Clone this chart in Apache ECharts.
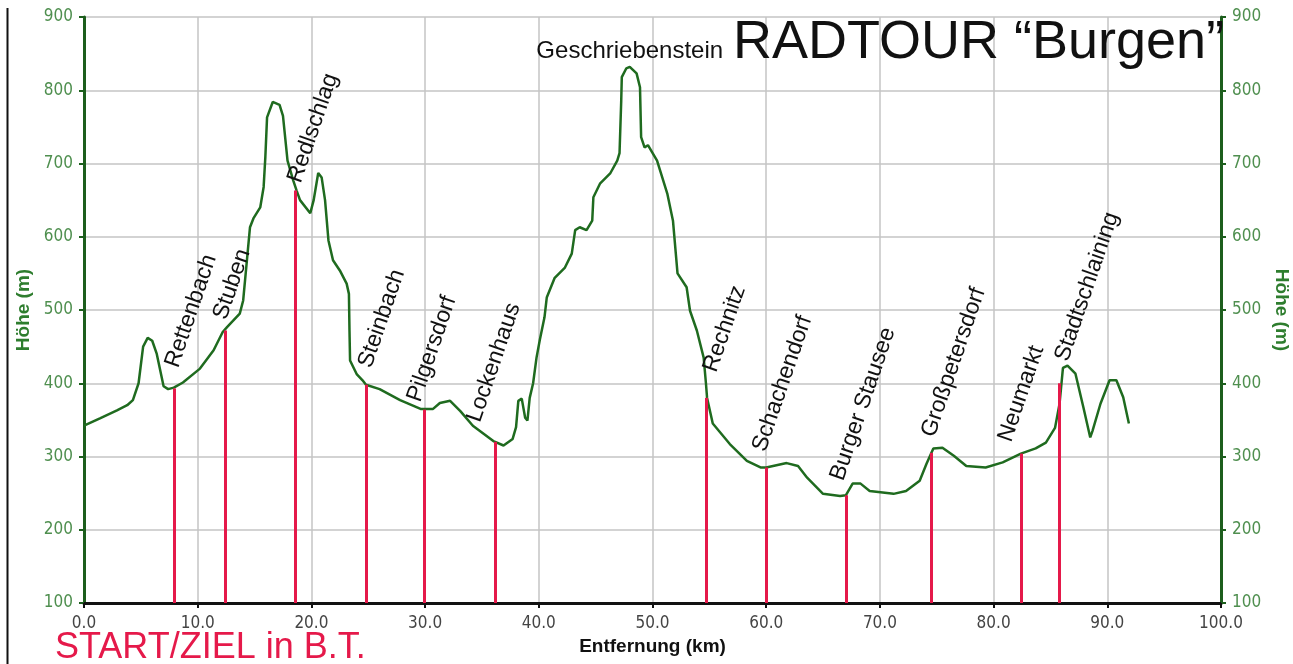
<!DOCTYPE html>
<html>
<head>
<meta charset="utf-8">
<script src="https://cdn.jsdelivr.net/npm/echarts@6/dist/echarts.min.js"></script>
<style>
  html, body { margin: 0; padding: 0; background: #fff; }
  #chart { width: 1293px; height: 664px; }
</style>
</head>
<body>
<div id="chart"></div>
<script>
// Höhenprofil: Entfernung (km) / Höhe (m)
const distKm = [0.0, 1.4, 2.9, 3.8, 4.3, 4.8, 5.2, 5.6, 6.0, 6.4, 7.0, 7.4, 7.9, 8.7, 10.2, 11.4, 12.2, 12.6,
  13.7, 14.0, 14.6, 14.9, 15.5, 15.8, 15.95, 16.1, 16.6, 17.2, 17.5, 17.9, 18.4, 18.7, 19.0, 19.9, 20.2, 20.6,
  20.9, 21.2, 21.5, 21.9, 22.5, 23.1, 23.3, 23.35, 23.4, 24.0, 24.5, 24.8, 26.0, 27.8, 29.6, 30.7, 31.3, 32.2,
  33.1, 34.2, 36.0, 36.9, 37.7, 38.0, 38.2, 38.5, 38.8, 39.0, 39.2, 39.5, 39.8, 40.1, 40.5, 40.7, 41.4, 42.3,
  42.9, 43.2, 43.6, 44.2, 44.7, 44.8, 45.4, 46.3, 46.9, 47.1, 47.25, 47.3, 47.7, 48.0, 48.6, 48.9, 49.0, 49.3,
  49.6, 50.4, 51.3, 51.8, 52.2, 53.0, 53.3, 53.9, 54.5, 54.7, 54.8, 55.3, 56.8, 58.3, 59.5, 60.0, 60.6, 61.8,
  62.8, 63.6, 65.0, 66.5, 67.0, 67.6, 68.3, 69.1, 71.2, 72.3, 73.5, 74.1, 74.7, 75.5, 76.5, 77.6, 79.3, 80.8,
  82.4, 83.7, 84.6, 85.4, 85.8, 86.1, 86.5, 87.2, 87.9, 88.5, 88.7, 89.4, 90.2, 90.8, 91.4, 91.9];
const elevM = [342, 352, 363, 370, 377, 400, 450, 462, 458, 440, 396, 392, 394, 401, 420, 445, 470, 477,
  495, 513, 613, 625, 640, 668, 709, 763, 784, 780, 765, 704, 677, 663, 650, 632, 650, 687,
  681, 650, 595, 568, 554, 536, 522, 472, 431, 412, 404, 398, 392, 377, 365, 365, 373, 376,
  362, 342, 321, 315, 324, 340, 376, 379, 353, 349, 380, 400, 435, 460, 490, 517, 544, 558,
  577, 609, 613, 609, 622, 654, 673, 687, 704, 714, 786, 818, 830, 832, 823, 804, 736, 722,
  725, 704, 659, 622, 550, 531, 499, 472, 435, 400, 380, 345, 317, 294, 285, 285, 287, 291,
  287, 271, 249, 246, 247, 263, 263, 253, 249, 253, 267, 290, 311, 312, 301, 287, 285, 292,
  304, 311, 319, 339, 372, 421, 424, 413, 367, 326, 335, 372, 404, 404, 381, 345];

// Orte entlang der Strecke
const stopNames = ['Rettenbach', 'Stuben', 'Redlschlag', 'Steinbach', 'Pilgersdorf', 'Lockenhaus',
  'Rechnitz', 'Schachendorf', 'Burger Stausee', 'Großpetersdorf', 'Neumarkt', 'Stadtschlaining'];
const stopKm = [7.9, 12.4, 18.6, 24.8, 29.9, 36.2, 54.7, 60.0, 67.0, 74.5, 82.4, 85.8];
const stopElev = [393, 472, 663, 398, 364, 320, 380, 285, 247, 305, 304, 400];

const summitName = 'Geschriebenstein';
const summitKm = 48.0;
const summitElev = 832;

const xTicks = [0, 10, 20, 30, 40, 50, 60, 70, 80, 90, 100];
const yTicks = [100, 200, 300, 400, 500, 600, 700, 800, 900];

// Label-Versatz in Pixel (nur Optik)
const labelShift = [[9, -18], [6, -8], [10, -5], [10, -14], [1, -5], [-11, -17],
  [15, -23], [4, -13], [2, -12], [8, -13], [-5, -9], [13, -19]];

const chart = echarts.init(document.getElementById('chart'));

const green = '#1d5e1d';
const tickGreen = '#4f8f4f';
const red = '#e5194a';
const narrow = '"Liberation Sans Narrow", "DejaVu Sans Condensed", "Liberation Sans", Arial, sans-serif';
const sans = '"Liberation Sans", Arial, sans-serif';

const profile = distKm.map((d, i) => [d, elevM[i]]);

const yAxisBase = {
  type: 'value',
  min: yTicks[0],
  max: yTicks[yTicks.length - 1],
  interval: 100,
  name: 'Höhe (m)',
  nameLocation: 'middle',
  nameTextStyle: { color: '#2e7d2e', fontWeight: 'bold', fontSize: 19, fontFamily: sans },
  axisLine: { show: true, lineStyle: { color: green, width: 3 } },
  axisTick: { show: true, length: 5, lineStyle: { color: green, width: 2 } },
  axisLabel: { color: tickGreen, fontSize: 17, fontFamily: narrow, margin: 11 }
};

const option = {
  animation: false,
  backgroundColor: '#fff',
  title: [
    {
      text: 'RADTOUR “Burgen”',
      left: 733, top: 16, padding: 0,
      textStyle: { fontSize: 54, fontWeight: 'normal', color: '#111', fontFamily: sans }
    },
    {
      text: 'START/ZIEL in B.T.',
      left: 55, top: 630, padding: 0,
      textStyle: { fontSize: 36, fontWeight: 'normal', color: red, fontFamily: sans }
    }
  ],
  graphic: [
    { type: 'line', shape: { x1: 7.5, y1: 8, x2: 7.5, y2: 664 }, style: { stroke: '#111', lineWidth: 2 } }
  ],
  grid: { left: 84, right: 72, top: 17, bottom: 61, outerBoundsMode: 'none' },
  xAxis: {
    type: 'value',
    min: xTicks[0],
    max: xTicks[xTicks.length - 1],
    interval: 10,
    name: 'Entfernung (km)',
    nameLocation: 'middle',
    nameGap: 34,
    nameTextStyle: { color: '#111', fontWeight: 'bold', fontSize: 19, fontFamily: sans },
    axisLine: { lineStyle: { color: '#111', width: 3 } },
    axisTick: { show: true, length: 5, lineStyle: { color: '#111', width: 2 } },
    axisLabel: { color: '#444', fontSize: 17, fontFamily: narrow, margin: 12, formatter: v => v.toFixed(1) },
    splitLine: { show: true, lineStyle: { color: '#c4c4c4', width: 1.5 } }
  },
  yAxis: [
    Object.assign({}, yAxisBase, {
      position: 'left',
      nameGap: 51,
      nameRotate: 90,
      splitLine: { show: true, lineStyle: { color: '#c4c4c4', width: 1.5 } }
    }),
    Object.assign({}, yAxisBase, {
      position: 'right',
      nameGap: 37,
      nameRotate: -90,
      splitLine: { show: false }
    })
  ],
  series: [
    {
      type: 'line',
      data: profile,
      showSymbol: false,
      symbol: 'none',
      lineStyle: { color: '#1f6b1f', width: 2.5 },
      z: 3,
      markLine: {
        silent: true,
        symbol: ['none', 'none'],
        label: { show: false },
        lineStyle: { color: red, width: 3, type: 'solid' },
        data: stopKm.map((k, i) => [
          { coord: [k, yTicks[0]] },
          { coord: [k, stopElev[i]] }
        ])
      }
    },
    {
      type: 'scatter',
      symbolSize: 0,
      silent: true,
      z: 5,
      itemStyle: { opacity: 1 },
      data: stopNames.map((n, i) => ({
        name: n,
        value: [stopKm[i], stopElev[i]],
        label: { position: labelShift[i] }
      })),
      label: {
        show: true,
        formatter: p => p.name,
        rotate: 71,
        align: 'left',
        verticalAlign: 'bottom',
        color: '#111',
        fontSize: 23,
        fontFamily: sans
      }
    },
    {
      type: 'scatter',
      symbolSize: 0,
      silent: true,
      itemStyle: { opacity: 1 },
      data: [{ name: summitName, value: [summitKm, summitElev] }],
      label: {
        show: true,
        position: 'top',
        distance: 3,
        formatter: p => p.name,
        color: '#111',
        fontSize: 24,
        fontFamily: sans
      }
    }
  ]
};

chart.setOption(option);
</script>
</body>
</html>
